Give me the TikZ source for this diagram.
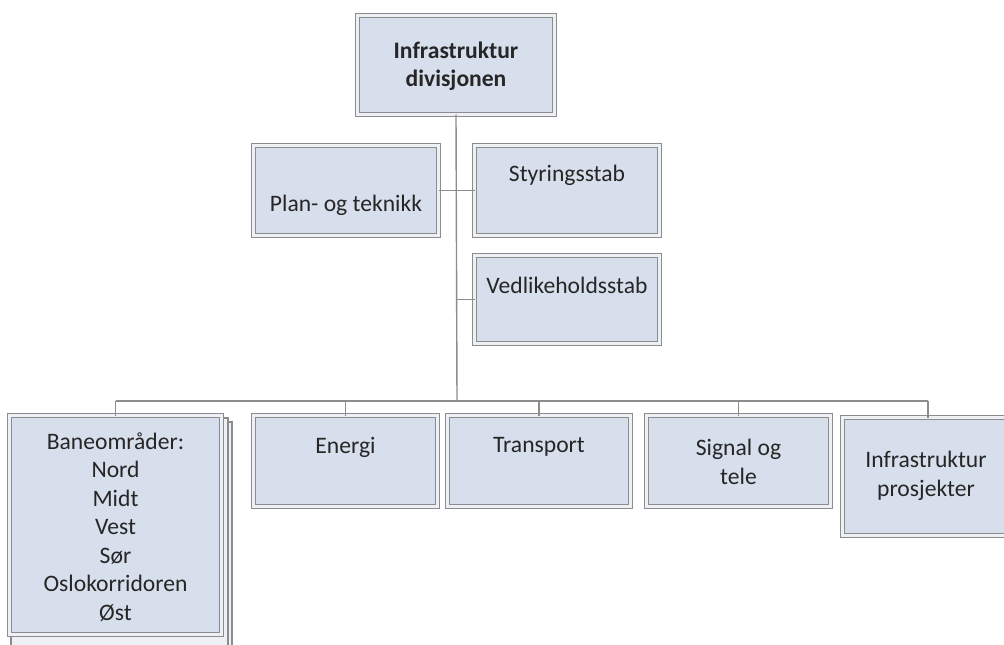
\documentclass[tikz,border=0pt]{standalone}
\usepackage{fontspec}
\setmainfont{Carlito}
\usetikzlibrary{calc}
\definecolor{boxfill}{RGB}{214,223,235}
\definecolor{edge}{RGB}{140,140,140}
\definecolor{ink}{RGB}{38,38,38}
\tikzset{
  orgbox/.style={rectangle, draw=edge, line width=1.3pt,
    double=boxfill!45!white, double distance=2.7pt,
    fill=boxfill, inner sep=0pt, outer sep=0pt},
  card/.style={draw=edge, line width=1.1pt, fill=boxfill!45!white},
  label text/.style={text=ink, align=center, inner sep=0pt,
    font=\fontsize{23.6}{28.5}\selectfont},
  link/.style={draw=edge, line width=1.4pt},
}
\begin{document}
\begin{tikzpicture}[x=1pt, y=-1pt]
  \useasboundingbox (0,0) rectangle (1004,645);
  \clip (0,0) rectangle (1004,645);

  % stacked cards behind the regional box
  \draw[card] (15,422) rectangle (232,660);
  \draw[card] (11,418) rectangle (228,655);

  % boxes
  \node[orgbox, minimum width=197pt, minimum height=99pt] (top) at (456,65) {};
  \node[orgbox, minimum width=185pt, minimum height=90pt] (plan) at (346,190.5) {};
  \node[orgbox, minimum width=185pt, minimum height=90pt] (styr) at (567,190.5) {};
  \node[orgbox, minimum width=185pt, minimum height=88pt] (vedl) at (567,299.5) {};
  \node[orgbox, minimum width=212pt, minimum height=219pt] (bane) at (115.5,525) {};
  \node[orgbox, minimum width=184pt, minimum height=91pt] (energi) at (345.5,461) {};
  \node[orgbox, minimum width=183pt, minimum height=91pt] (transport) at (539,461) {};
  \node[orgbox, minimum width=184pt, minimum height=91pt] (signal) at (738.5,461) {};
  \node[orgbox, minimum width=171pt, minimum height=118pt] (prosj) at (928,476.5) {};

  % texts
  \node[label text, font=\fontsize{23.6}{28.5}\selectfont\bfseries] (top-t) at (456,66) {Infrastruktur\\divisjonen};
  \node[label text] (plan-t) at (346,205) {Plan- og teknikk};
  \node[label text] (styr-t) at (567,175) {Styringsstab};
  \node[label text] (vedl-t) at (567,285) {Vedlikeholdsstab};
  \node[label text] (bane-t) at (115.5,527) {Baneområder:\\Nord\\Midt\\Vest\\Sør\\Oslokorridoren\\Øst};
  \node[label text] (energi-t) at (345.5,447) {Energi};
  \node[label text] (transport-t) at (539,447) {Transport};
  \node[label text] (signal-t) at (738.5,462) {Signal og\\tele};
  \node[label text] (prosj-t) at (926,476) {Infrastruktur\\prosjekter};

  % connectors
  \coordinate (bar) at (457,401);
  \coordinate (staff1) at (457,190.5);
  \coordinate (staff2) at (457,299.5);
  \draw[link] (top.south) -- (bar);
  \draw[link] (plan.east) -- (styr.west);
  \draw[link] (staff2) -- (vedl.west);
  \draw[link] (bane.north |- bar) -- (prosj.north |- bar);
  \foreach \n in {bane, energi, transport, signal, prosj}
    \draw[link] (\n.north |- bar) -- (\n.north);
\end{tikzpicture}
\end{document}
